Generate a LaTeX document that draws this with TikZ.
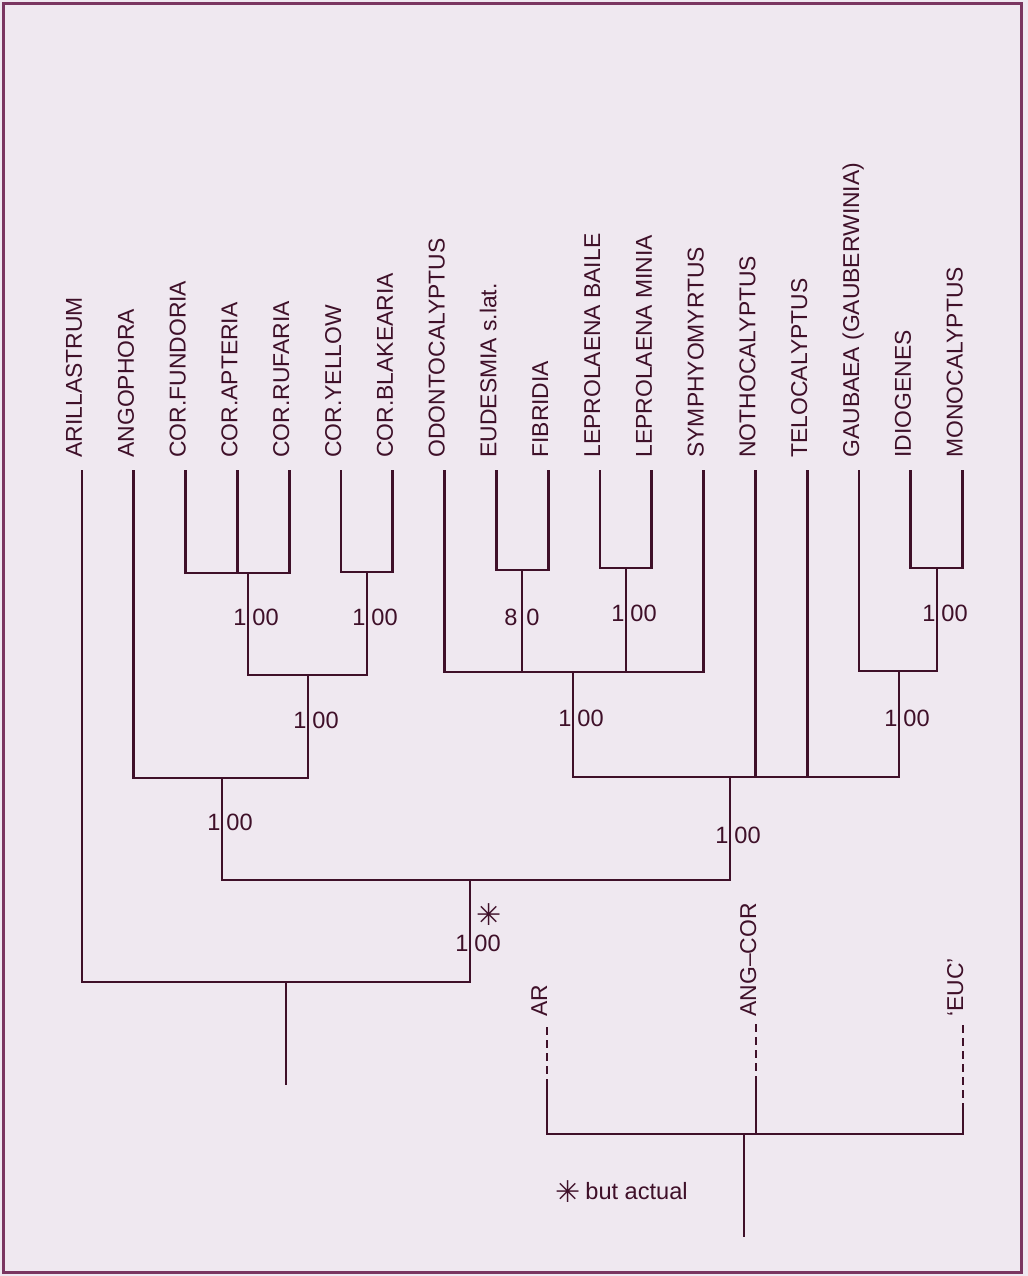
\documentclass[tikz,border=0pt]{standalone}
\usepackage{fontspec}
\setmainfont{Liberation Sans}
\newfontfamily\starfont{DejaVu Sans}
\definecolor{ink}{HTML}{3F1029}
\definecolor{paper}{HTML}{EFE8F0}
\definecolor{rim}{HTML}{7A3560}
\begin{document}
\begin{tikzpicture}[x=0.5pt, y=-0.5pt,
		taxon/.style={rotate=90, anchor=base west, inner sep=0pt, text=ink, font=\fontsize{11.45}{13}\selectfont},
		branch/.style={draw=ink, line width=1.45pt},
		fossil/.style={draw=ink, line width=1.45pt, dash pattern=on 4pt off 2.5pt},
		lft/.style={anchor=east, inner sep=0pt, text=ink, font=\fontsize{11.8}{13}\selectfont},
		rgt/.style={anchor=west, inner sep=0pt, text=ink, font=\fontsize{11.8}{13}\selectfont},
		star/.style={inner sep=0pt, text=ink, font=\starfont\fontsize{15}{16}\selectfont}]
		\useasboundingbox[fill=paper] (0,0) rectangle (1028,1276);
		\draw[rim, line width=1.5pt] (3,3) rectangle (1021,1272);
		
		\coordinate (arl) at (82,470);
		\coordinate (ang) at (133.8,470);
		\coordinate (fun) at (185.6,470);
		\coordinate (apt) at (237.4,470);
		\coordinate (ruf) at (289.2,470);
		\coordinate (yel) at (341,470);
		\coordinate (bla) at (392.8,470);
		\coordinate (odo) at (444.6,470);
		\coordinate (eud) at (496.4,470);
		\coordinate (fib) at (548.2,470);
		\coordinate (lba) at (600,470);
		\coordinate (lmi) at (651.8,470);
		\coordinate (sym) at (703.6,470);
		\coordinate (not) at (755.4,470);
		\coordinate (tel) at (807.2,470);
		\coordinate (gau) at (859,470);
		\coordinate (idi) at (910.8,470);
		\coordinate (mon) at (962.6,470);
		
		\node[taxon] (tarl) at (82,458) {ARILLASTRUM};
		\node[taxon] (tang) at (133.8,458) {ANGOPHORA};
		\node[taxon] (tfun) at (185.6,458) {COR.FUNDORIA};
		\node[taxon] (tapt) at (237.4,458) {COR.APTERIA};
		\node[taxon] (truf) at (289.2,458) {COR.RUFARIA};
		\node[taxon] (tyel) at (341,458) {COR.YELLOW};
		\node[taxon] (tbla) at (392.8,458) {COR.BLAKEARIA};
		\node[taxon] (todo) at (444.6,458) {ODONTOCALYPTUS};
		\node[taxon] (teud) at (496.4,458) {EUDESMIA s.lat.};
		\node[taxon] (tfib) at (548.2,458) {FIBRIDIA};
		\node[taxon] (tlba) at (600,458) {LEPROLAENA BAILE};
		\node[taxon] (tlmi) at (651.8,458) {LEPROLAENA MINIA};
		\node[taxon] (tsym) at (703.6,458) {SYMPHYOMYRTUS};
		\node[taxon] (tnot) at (755.4,458) {NOTHOCALYPTUS};
		\node[taxon] (ttel) at (807.2,458) {TELOCALYPTUS};
		\node[taxon] (tgau) at (859,458) {GAUBAEA (GAUBERWINIA)};
		\node[taxon] (tidi) at (910.8,458) {IDIOGENES};
		\node[taxon] (tmon) at (962.6,458) {MONOCALYPTUS};
		
		\coordinate (corJ) at (248,573);
		\coordinate (yelJ) at (367,572);
		\coordinate (corS) at (308,675);
		\coordinate (angJ) at (222,778);
		\coordinate (eudJ) at (522,570);
		\coordinate (lepJ) at (626,568);
		\coordinate (euS) at (573,672);
		\coordinate (idiJ) at (937,568);
		\coordinate (gauS) at (899,671);
		\coordinate (eucS) at (730,777);
		\coordinate (topS) at (470,880);
		\coordinate (root) at (286,982);
		\coordinate (base) at (286,1085);
		
		\draw[branch] (fun) |- (corJ) -| (ruf);
		\draw[branch] (apt) -- (apt |- corJ);
		\draw[branch] (yel) |- (yelJ) -| (bla);
		\draw[branch] (corJ) |- (corS) -| (yelJ);
		\draw[branch] (ang) |- (angJ) -| (corS);
		\draw[branch] (angJ) |- (topS) -| (eucS);
		\draw[branch] (arl) |- (root) -| (topS);
		\draw[branch] (root) -- (base);
		\draw[branch] (eud) |- (eudJ) -| (fib);
		\draw[branch] (lba) |- (lepJ) -| (lmi);
		\draw[branch] (odo) |- (euS) -| (sym);
		\draw[branch] (eudJ) -- (eudJ |- euS);
		\draw[branch] (lepJ) -- (lepJ |- euS);
		\draw[branch] (idi) |- (idiJ) -| (mon);
		\draw[branch] (gau) |- (gauS) -| (idiJ);
		\draw[branch] (euS) |- (eucS) -| (gauS);
		\draw[branch] (not) -- (not |- eucS);
		\draw[branch] (tel) -- (tel |- eucS);
		
		\node[lft] (b1a) at (247,617) {1};
		\node[rgt] (b1b) at (252,617) {00};
		\node[lft] (b2a) at (366,617) {1};
		\node[rgt] (b2b) at (371,617) {00};
		\node[lft] (b3a) at (307,720) {1};
		\node[rgt] (b3b) at (312,720) {00};
		\node[lft] (b4a) at (221,822) {1};
		\node[rgt] (b4b) at (226,822) {00};
		\node[lft] (b5a) at (518,617) {8};
		\node[rgt] (b5b) at (526,617) {0};
		\node[lft] (b6a) at (625,613) {1};
		\node[rgt] (b6b) at (630,613) {00};
		\node[lft] (b7a) at (936,613) {1};
		\node[rgt] (b7b) at (941,613) {00};
		\node[lft] (b8a) at (572,718) {1};
		\node[rgt] (b8b) at (577,718) {00};
		\node[lft] (b9a) at (898,718) {1};
		\node[rgt] (b9b) at (903,718) {00};
		\node[lft] (b10a) at (729,835) {1};
		\node[rgt] (b10b) at (734,835) {00};
		\node[lft] (b11a) at (469,943) {1};
		\node[rgt] (b11b) at (474,943) {00};
		\node[star] (st) at (489,915) {✳};
		
		\coordinate (ar) at (547,1027);
		\coordinate (ac) at (756,1024);
		\coordinate (ec) at (963,1025);
		\coordinate (arD) at (547,1079);
		\coordinate (acD) at (756,1080);
		\coordinate (ecD) at (963,1107);
		\coordinate (lowJ) at (744,1134);
		\coordinate (lowB) at (744,1237);
		\node[taxon] (tar) at (547,1017) {AR};
		\node[taxon] (tac) at (756,1017) {ANG--COR};
		\node[taxon] (tec) at (963,1017) {`EUC'};
		
		\draw[fossil] (ar) -- (arD);
		\draw[fossil] (ac) -- (acD);
		\draw[fossil] (ec) -- (ecD);
		\draw[branch] (arD) |- (lowJ) -| (ecD);
		\draw[branch] (acD) -- (acD |- lowJ);
		\draw[branch] (lowJ) -- (lowB);
		
		\node[star] (key) at (568,1192) {✳};
		\node[rgt] (keyt) at (585,1191) {but actual};
	\end{tikzpicture}
\end{document}
